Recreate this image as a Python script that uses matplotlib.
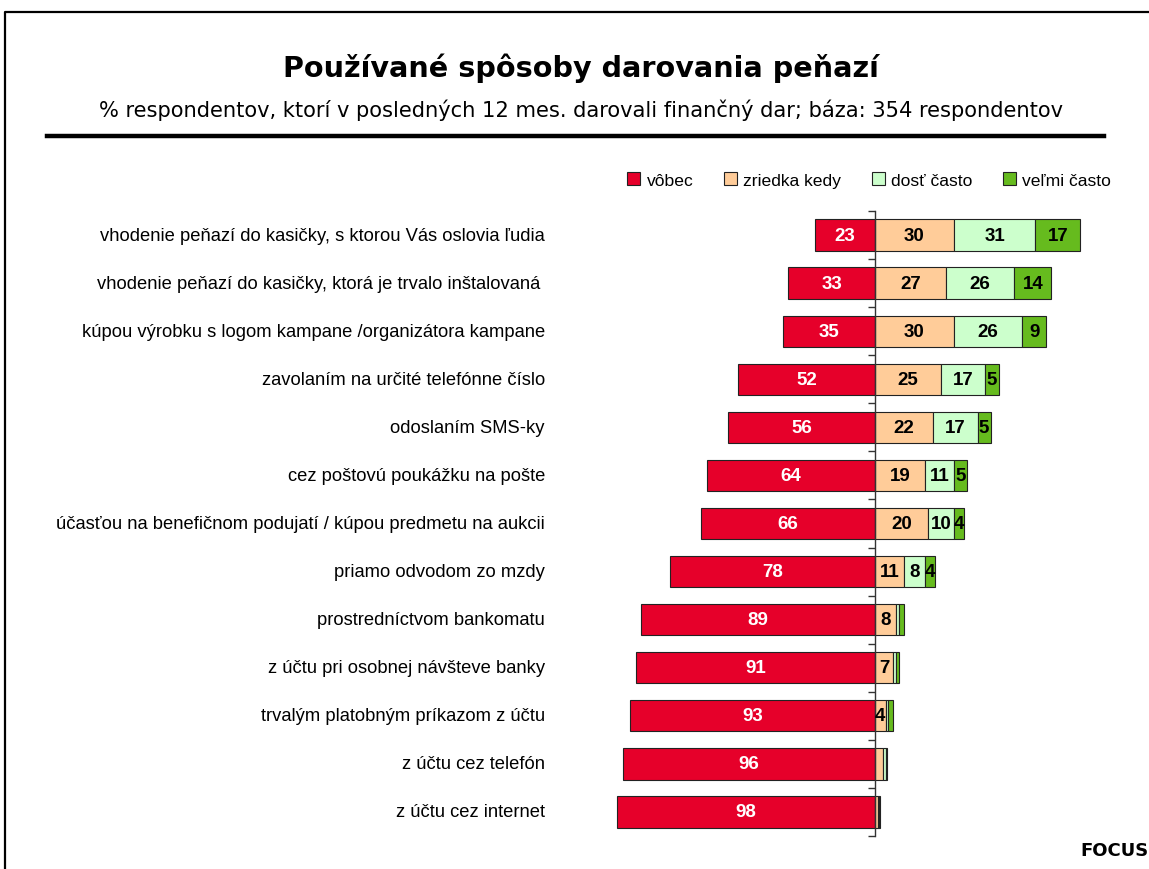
import matplotlib
matplotlib.use("Agg")
import matplotlib.pyplot as plt
from matplotlib.patches import Patch
from matplotlib.lines import Line2D
from matplotlib.transforms import blended_transform_factory

categories = [
    "vhodenie peňazí do kasičky, s ktorou Vás oslovia ľudia",
    "vhodenie peňazí do kasičky, ktorá je trvalo inštalovaná ",
    "kúpou výrobku s logom kampane /organizátora kampane",
    "zavolaním na určité telefónne číslo",
    "odoslaním SMS-ky",
    "cez poštovú poukážku na pošte",
    "účasťou na benefičnom podujatí / kúpou predmetu na aukcii",
    "priamo odvodom zo mzdy",
    "prostredníctvom bankomatu",
    "z účtu pri osobnej návšteve banky",
    "trvalým platobným príkazom z účtu",
    "z účtu cez telefón",
    "z účtu cez internet",
]
vobec = [23, 33, 35, 52, 56, 64, 66, 78, 89, 91, 93, 96, 98]
zriedka = [30, 27, 30, 25, 22, 19, 20, 11, 8, 7, 4, 3, 1]
dost = [31, 26, 26, 17, 17, 11, 10, 8, 1, 1, 1, 1, 0.5]
velmi = [17, 14, 9, 5, 5, 5, 4, 4, 2, 1, 2, 0.5, 0.5]
series_names = ["vôbec", "zriedka kedy", "dosť často", "veľmi často"]
colors = ["#E6002A", "#FFCC99", "#CCFFCC", "#66BB1E"]

title = "Používané spôsoby darovania peňazí"
subtitle = "% respondentov, ktorí v posledných 12 mes. darovali finančný dar; báza: 354 respondentov"

W, H = 1149, 870
fig = plt.figure(figsize=(W / 100, H / 100), dpi=100)
fig.patch.set_facecolor("white")

ax = fig.add_axes([612 / W, 1 - 837 / H, 526 / W, 625 / H])
y = list(range(len(categories)))
bh = 0.65

ax.barh(y, [-v for v in vobec], height=bh, color=colors[0], edgecolor="#222222", linewidth=0.8)
left = [0] * len(y)
for vals, c in zip([zriedka, dost, velmi], colors[1:]):
    ax.barh(y, vals, left=left, height=bh, color=c, edgecolor="#222222", linewidth=0.8)
    for i, v in enumerate(vals):
        if v >= 4:
            ax.text(left[i] + v / 2, i, f"{v:g}", ha="center", va="center",
                    fontsize=13.5, fontweight="bold", color="black", family="Liberation Sans")
    left = [a + b for a, b in zip(left, vals)]
for i, v in enumerate(vobec):
    ax.text(-v / 2, i, f"{v:g}", ha="center", va="center",
            fontsize=13.5, fontweight="bold", color="white", family="Liberation Sans")

ax.set_xlim(-100, 100)
ax.set_ylim(len(y) - 0.5, -0.5)
for s in ["top", "right", "bottom"]:
    ax.spines[s].set_visible(False)
ax.spines["left"].set_position(("data", 0))
ax.spines["left"].set_color("#333333")
ax.spines["left"].set_linewidth(1.0)
ax.set_xticks([])
ax.set_yticks([i + 0.5 for i in range(-1, len(y))])
ax.set_yticklabels([])
ax.tick_params(axis="y", direction="out", length=5, color="#333333", width=1)

trans = blended_transform_factory(fig.transFigure, ax.transData)
for i, c in enumerate(categories):
    ax.text(545 / W, i, c, transform=trans, ha="right", va="center",
            fontsize=13.2, family="Liberation Sans", color="black")

fig.text(581 / W, 1 - 68 / H, title, ha="center", va="center",
         fontsize=20.6, fontweight="bold", family="DejaVu Sans")
fig.text(581 / W, 1 - 110 / H, subtitle, ha="center", va="center",
         fontsize=15.1, family="DejaVu Sans")
fig.add_artist(Line2D([47 / W, 1104 / W], [1 - 137 / H, 1 - 137 / H],
                      transform=fig.transFigure, color="black", linewidth=3.2))

# frame
fig.add_artist(Line2D([5 / W, 5 / W, 1.0], [0, 1 - 13 / H, 1 - 13 / H],
                      transform=fig.transFigure, color="black", linewidth=1.6))

handles = [Patch(facecolor=c, edgecolor="#222222", linewidth=0.8) for c in colors]
fig.legend(handles, series_names, loc="center right",
           bbox_to_anchor=(1118 / W, 1 - 181 / H), ncol=4, frameon=False,
           prop={"family": "Liberation Sans", "size": 12.6},
           handlelength=0.75, handleheight=0.75, handletextpad=0.35,
           columnspacing=1.75, borderaxespad=0)

fig.text(1149 / W, 1 - 851 / H, "FOCUS", ha="right", va="center",
         fontsize=13, fontweight="bold", family="DejaVu Sans")

fig.savefig("out.png", dpi=100)
